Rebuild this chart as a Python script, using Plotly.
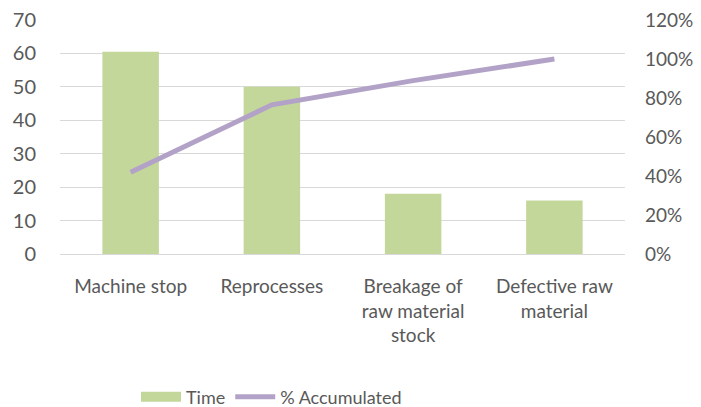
import plotly.graph_objects as go

categories = ["Machine stop", "Reprocesses", "Breakage of<br>raw material<br>stock", "Defective raw<br>material"]
time_values = [60.5, 50, 18, 16]
accumulated = [0.419, 0.765, 0.889, 1.0]
left_ticks = [0, 10, 20, 30, 40, 50, 60, 70]
right_ticks = [0, 0.2, 0.4, 0.6, 0.8, 1.0, 1.2]

font_family = "Lato, Open Sans, sans-serif"
text_color = "#595959"
bar_color = "#C4D79B"
line_color = "#B3A2C7"

fig = go.Figure()
fig.add_trace(go.Bar(x=categories, y=time_values, name="Time", showlegend=False,
                     marker=dict(color=bar_color, line=dict(width=0)), yaxis="y"))
# legend-only entry that mimics the wide Excel swatch
fig.add_trace(go.Scatter(x=[None], y=[None], name="Time", mode="lines",
                         line=dict(color=bar_color, width=14), yaxis="y"))
fig.add_trace(go.Scatter(x=categories, y=accumulated, name="% Accumulated",
                         mode="lines", line=dict(color=line_color, width=5), yaxis="y2"))

fig.update_layout(
    width=693, height=399,
    margin=dict(l=52, r=76, t=12, b=153, autoexpand=False),
    plot_bgcolor="white", paper_bgcolor="white",
    font=dict(family=font_family, size=19, color=text_color),
    bargap=0.6,
    showlegend=True,
    legend=dict(orientation="h", x=0.1345, xanchor="left", y=-0.611, yanchor="middle",
                font=dict(size=18, color=text_color), itemwidth=40, tracegroupgap=0,
                bgcolor="rgba(0,0,0,0)"),
    xaxis=dict(showgrid=False, showline=False, ticks="", tickangle=0,
               ticklabelstandoff=19, ticklabeloverflow="allow",
               tickfont=dict(size=19, color=text_color)),
    yaxis=dict(range=[0, 70], tickvals=left_ticks, showgrid=True, gridcolor="#D9D9D9",
               gridwidth=1.3, zeroline=True, zerolinecolor="#D9D9D9", zerolinewidth=1.3,
               showline=False, ticks="", ticklabelstandoff=23, ticklabeloverflow="allow",
               tickfont=dict(size=20, color=text_color)),
    yaxis2=dict(range=[0, 1.2], tickvals=right_ticks, tickformat=".0%", overlaying="y",
                side="right", showgrid=False, zeroline=False, showline=False, ticks="",
                ticklabelstandoff=19, ticklabeloverflow="allow",
                tickfont=dict(size=19, color=text_color)),
)

fig.write_html("out.html")
